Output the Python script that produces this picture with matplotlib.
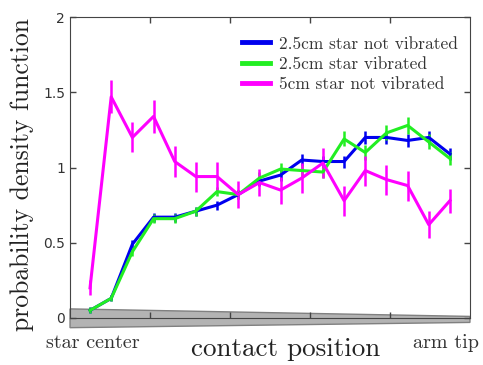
import numpy as np
import matplotlib
matplotlib.use('Agg')
import matplotlib.pyplot as plt
from matplotlib.patches import Polygon
from matplotlib.lines import Line2D

# bin centres along the arm, star center -> arm tip
pos = np.linspace(0.05, 0.95, 18)

blue = [0.05, 0.13, 0.49, 0.67, 0.67, 0.71, 0.75, 0.82, 0.91, 0.95, 1.05, 1.04,
        1.04, 1.20, 1.20, 1.18, 1.20, 1.09]
blue_err = [0.02, 0.02, 0.03, 0.03, 0.03, 0.03, 0.03, 0.03, 0.03, 0.04, 0.04, 0.04,
            0.04, 0.045, 0.045, 0.045, 0.045, 0.04]
green = [0.05, 0.13, 0.44, 0.66, 0.66, 0.71, 0.84, 0.82, 0.93, 0.99, 0.98, 0.97,
         1.19, 1.10, 1.23, 1.28, 1.17, 1.06]
green_err = [0.02, 0.02, 0.03, 0.03, 0.03, 0.03, 0.03, 0.03, 0.04, 0.04, 0.04, 0.04,
             0.05, 0.05, 0.05, 0.055, 0.05, 0.04]
magenta = [0.20, 1.47, 1.20, 1.34, 1.04, 0.94, 0.94, 0.82, 0.90, 0.85, 0.93, 1.03,
           0.78, 0.98, 0.92, 0.88, 0.62, 0.78]
magenta_err = [0.05, 0.11, 0.10, 0.11, 0.10, 0.10, 0.10, 0.09, 0.09, 0.09, 0.10, 0.10,
               0.10, 0.10, 0.10, 0.10, 0.09, 0.08]

labels = ['2.5cm star not vibrated', '2.5cm star vibrated', '5cm star not vibrated']
colors = ['#0000ee', '#22ee22', '#ff00ff']

fig = plt.figure(figsize=(4.83, 3.65), dpi=100)
ax = fig.add_axes([0.145, 0.129, 0.828, 0.824])

for y, e, c in zip([blue, green, magenta], [blue_err, green_err, magenta_err], colors):
    ax.errorbar(pos, y, yerr=e, color=c, lw=2.2, elinewidth=1.8, capsize=0)

# gray wedge = the star arm
arm = Polygon([(0, 0.06), (1, 0.01), (1, -0.03), (0, -0.065)], closed=True,
              facecolor='#b3b3b3', edgecolor='#808080', lw=1, clip_on=False, zorder=0)
ax.add_patch(arm)

ax.set_xlim(0, 1)
ax.set_ylim(0, 2)
ax.set_xticks([0.2, 0.4, 0.6, 0.8])
ax.set_xticklabels([])
ax.set_yticks([0, 0.5, 1, 1.5, 2])
ax.set_yticklabels(['0', '0.5', '1', '1.5', '2'])
ax.tick_params(direction='in', top=True, right=True, length=4, width=1, colors='#444444',
               labelsize=10, labelcolor='#333333')
for s in ax.spines.values():
    s.set_color('#444444')

ax.text(0.057, -0.055, 'star center', transform=ax.transAxes, ha='center', va='top',
        fontfamily='cmr10', fontsize=14.5, color='#333333')
ax.text(0.94, -0.055, 'arm tip', transform=ax.transAxes, ha='center', va='top',
        fontfamily='cmr10', fontsize=14.5, color='#333333')
ax.set_xlabel('contact position', fontfamily='cmr10', fontsize=19.5, color='#222222')
ax.xaxis.set_label_coords(0.54, -0.065)
ax.set_ylabel('probability density function', fontfamily='cmr10', fontsize=18.5,
              color='#222222')
ax.yaxis.set_label_coords(-0.09, 0.478)

handles = [Line2D([], [], color=c, lw=3.5) for c in colors]
leg = ax.legend(handles, labels, loc='upper right', bbox_to_anchor=(1.0, 0.977), frameon=False,
                prop={'family': 'cmr10', 'size': 12.5}, handlelength=1.6, handletextpad=0.5,
                labelspacing=0.28, borderaxespad=0.3)
for t in leg.get_texts():
    t.set_color('#333333')

fig.savefig('out.png', dpi=100)
